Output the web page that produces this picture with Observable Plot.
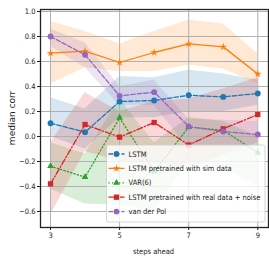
<!DOCTYPE html>
<html><head><meta charset="utf-8">
<script src="https://cdn.jsdelivr.net/npm/d3@7"></script>
<script src="https://cdn.jsdelivr.net/npm/@observablehq/plot@0.6"></script>
<style>body{margin:0;background:#fff;} svg{display:block;}</style>
</head><body><div id="chart"></div>
<script>
const steps = [3, 4, 5, 6, 7, 8, 9];
const xTicks = [3, 5, 7, 9];
const yTicks = [-0.6, -0.4, -0.2, 0.0, 0.2, 0.4, 0.6, 0.8, 1.0];
const names = ["LSTM", "LSTM pretrained with sim data", "VAR(6)", "LSTM pretrained with real data + noise", "van der Pol"];

const lstm   = [0.106, 0.035, 0.280, 0.288, 0.330, 0.317, 0.344];
const lstmLo = [0.00, -0.10, 0.15, 0.15, 0.20, 0.20, 0.25];
const lstmHi = [0.31, 0.22, 0.48, 0.47, 0.53, 0.50, 0.45];

const sim   = [0.667, 0.683, 0.592, 0.672, 0.741, 0.717, 0.500];
const simLo = [0.42, 0.55, 0.52, 0.52, 0.57, 0.54, 0.42];
const simHi = [0.92, 0.84, 0.74, 0.84, 0.93, 0.90, 0.66];

const varV  = [-0.237, -0.325, 0.150, -0.280, 0.075, 0.050, -0.130];
const varLo = [-0.42, -0.54, -0.55, -0.60, -0.20, -0.25, -0.40];
const varHi = [-0.05, -0.14, 0.30, -0.05, 0.15, 0.12, 0.00];

const noise   = [-0.379, 0.096, -0.005, 0.112, -0.068, 0.061, 0.176];
const noiseLo = [-0.63, -0.12, -0.20, -0.20, -0.25, -0.15, -0.05];
const noiseHi = [-0.05, 0.35, 0.20, 0.28, 0.30, 0.38, 0.47];

const vdp   = [0.800, 0.654, 0.325, 0.355, 0.080, 0.040, 0.016];
const vdpLo = [0.72, 0.55, 0.25, 0.25, -0.10, -0.08, -0.08];
const vdpHi = [0.86, 0.75, 0.40, 0.45, 0.14, 0.13, 0.12];

const series = [
  {name: names[0], v: lstm,  lo: lstmLo,  hi: lstmHi,  color: "#1f77b4", dash: "4.5,2",     symbol: "circle",   r: 2.9},
  {name: names[1], v: sim,   lo: simLo,   hi: simHi,   color: "#ff7f0e", dash: null,        symbol: "star",     r: 2.4},
  {name: names[2], v: varV,  lo: varLo,   hi: varHi,   color: "#2ca02c", dash: "1.3,2.2",   symbol: "triangle", r: 2.5},
  {name: names[3], v: noise, lo: noiseLo, hi: noiseHi, color: "#d62728", dash: "6,2,1.3,2", symbol: "square",   r: 3},
  {name: names[4], v: vdp,   lo: vdpLo,   hi: vdpHi,   color: "#9467bd", dash: "4.5,2",     symbol: "circle",   r: 2.9}
];

const fmt = d => d.toFixed(1).replace("-", "\u2212");
const table = s => steps.map((x, i) => ({x, y: s.v[i], lo: s.lo[i], hi: s.hi[i]}));

const marks = [];
series.forEach(s => marks.push(Plot.areaY(table(s), {x: "x", y1: "lo", y2: "hi", fill: s.color, fillOpacity: 0.18})));
marks.push(Plot.gridX({ticks: xTicks, stroke: "#b0b0b0", strokeOpacity: 1, strokeWidth: 1}));
marks.push(Plot.gridY({ticks: yTicks, stroke: "#b0b0b0", strokeOpacity: 1, strokeWidth: 1}));
series.forEach(s => {
  marks.push(Plot.line(table(s), {x: "x", y: "y", stroke: s.color, strokeWidth: 1.3, strokeDasharray: s.dash}));
  marks.push(Plot.dot(table(s), {x: "x", y: "y", fill: s.color, symbol: s.symbol, r: s.r}));
});
marks.push(Plot.axisX({ticks: xTicks, tickSize: 3, tickPadding: 2, label: null, tickFormat: d => String(d)}));
marks.push(Plot.axisY({ticks: yTicks, tickSize: 3, tickPadding: 2, label: null, tickFormat: fmt}));
marks.push(Plot.frame({stroke: "#222", strokeWidth: 1.3}));

const plot = Plot.plot({
  width: 269, height: 258,
  marginLeft: 40, marginRight: 1, marginTop: 9, marginBottom: 31,
  x: {domain: [2.71, 9.31]},
  y: {domain: [-0.728, 1.016]},
  style: {fontFamily: "'DejaVu Sans Condensed', 'DejaVu Sans', sans-serif", fontSize: "7.5px", background: "white", color: "#222"},
  marks
});
document.getElementById("chart").appendChild(plot);

const svg = d3.select(plot);
svg.append("text").attr("x", 153.5).attr("y", 254).attr("text-anchor", "middle")
  .attr("font-size", "7.5px").attr("fill", "#222").text("steps ahead");
svg.append("text").attr("transform", "translate(15,118) rotate(-90)").attr("text-anchor", "middle")
  .attr("font-family", "'DejaVu Sans', sans-serif").attr("font-size", "9px").attr("fill", "#222").text("median corr");

const lg = svg.append("g").attr("text-anchor", "start");
lg.append("rect").attr("x", 106.5).attr("y", 145).attr("width", 158.5).attr("height", 77).attr("rx", 2)
  .attr("fill", "white").attr("fill-opacity", 0.8).attr("stroke", "#cccccc").attr("stroke-width", 0.8);
const symMap = {circle: d3.symbolCircle, star: d3.symbolStar, triangle: d3.symbolTriangle, square: d3.symbolSquare};
series.forEach((s, i) => {
  const cy = 154 + i * 14.4;
  lg.append("line").attr("x1", 108.5).attr("x2", 124.5).attr("y1", cy).attr("y2", cy)
    .attr("stroke", s.color).attr("stroke-width", 1.3).attr("stroke-dasharray", s.dash);
  lg.append("path").attr("transform", `translate(116.5,${cy})`)
    .attr("d", d3.symbol(symMap[s.symbol], Math.PI * s.r * s.r)()).attr("fill", s.color);
  lg.append("text").attr("x", 128.5).attr("y", cy).attr("dy", "0.35em").attr("font-size", "7.5px")
    .attr("text-anchor", "start").attr("fill", "#222").text(s.name);
});
</script></body></html>
